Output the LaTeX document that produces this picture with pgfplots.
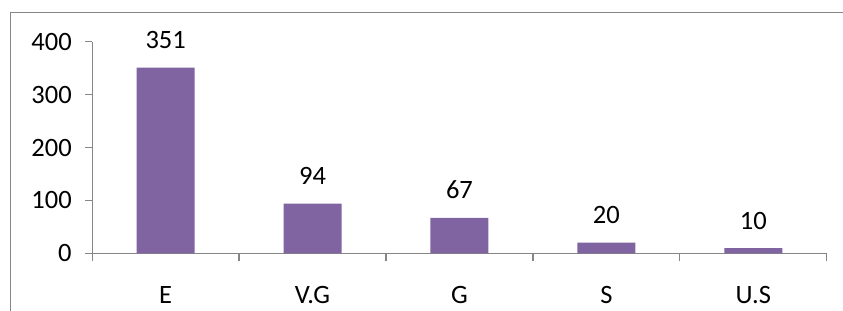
\documentclass[border=0pt]{standalone}
\usepackage{fontspec}
\setmainfont{Carlito}
\usepackage{pgfplots}
\pgfplotsset{compat=1.18}
\definecolor{barpurple}{HTML}{8064A2}
\definecolor{axisgray}{HTML}{868686}
\begin{document}
\begin{tikzpicture}
\useasboundingbox (0,0) rectangle (843bp,311bp);
\draw[axisgray, line width=0.9bp] (10bp,0) -- (10bp,299bp) -- (843bp,299bp);
\begin{axis}[
  at={(92.2bp,57.7bp)}, anchor=south west,
  scale only axis, width=734.5bp, height=211.6bp,
  xmin=-0.5, xmax=4.5, ymin=0, ymax=400,
  axis x line=bottom, axis y line=left,
  axis line style={axisgray, line width=1.3bp, -},
  xtick={0,1,2,3,4},
  xticklabels={E,V.G,G,S,U.S},
  major x tick style={draw=none},
  minor xtick={-0.5,0.5,1.5,2.5,3.5,4.5},
  minor x tick style={axisgray, line width=1.3bp},
  minor tick length=8bp,
  ytick={0,100,200,300,400},
  y tick style={axisgray, line width=1.3bp},
  major tick length=7bp,
  tick align=outside,
  /pgf/number format/assume math mode=true,
  xticklabel style={font=\fontsize{26.5bp}{30bp}\selectfont, anchor=base, yshift=-43bp},
  yticklabel style={font=\fontsize{26.5bp}{30bp}\selectfont, anchor=east, xshift=-10bp},
  ybar, bar width=58bp,
  nodes near coords,
  every node near coord/.append style={font=\fontsize{26.5bp}{30bp}\selectfont, anchor=base, yshift=19bp, inner sep=0pt},
  clip=false,
]
\addplot[fill=barpurple, draw=none] coordinates {(0,351) (1,94) (2,67) (3,20) (4,10)};
\end{axis}
\end{tikzpicture}
\end{document}
